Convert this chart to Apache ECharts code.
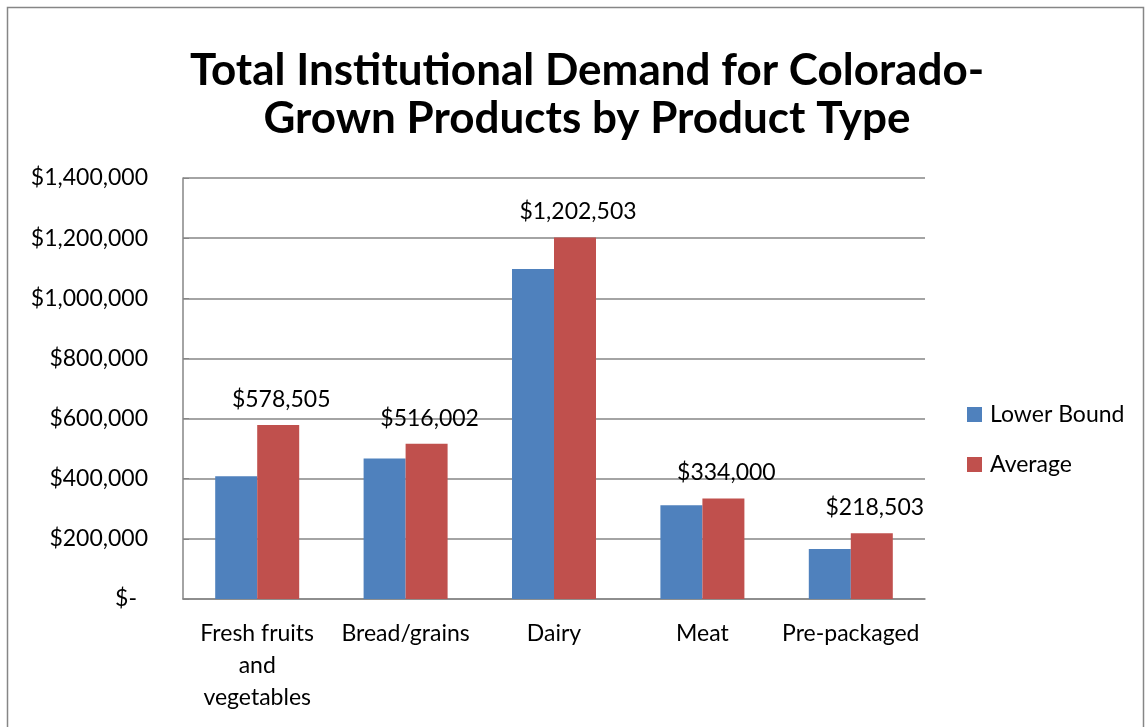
<!DOCTYPE html>
<html>
<head>
<meta charset="utf-8">
<script src="https://cdn.jsdelivr.net/npm/echarts@6/dist/echarts.min.js"></script>
<style>
  html, body { margin: 0; padding: 0; background: #fff; }
  #chart { width: 1145px; height: 727px; }
</style>
</head>
<body>
<div id="chart"></div>
<script>
// Institutional demand by product type (USD)
const categories = ['Fresh fruits\nand\nvegetables', 'Bread/grains', 'Dairy', 'Meat', 'Pre-packaged'];
const lowerBound = [408000, 467000, 1097000, 312000, 166000];
const average = [578505, 516002, 1202503, 334000, 218503];
const seriesNames = ['Lower Bound', 'Average'];

const FONT = 'Lato, "Open Sans", sans-serif';

function money(v) {
  return '$' + Math.round(v).toLocaleString('en-US');
}

const chart = echarts.init(document.getElementById('chart'));
chart.setOption({
  backgroundColor: '#ffffff',
  animation: false,
  title: {
    text: 'Total Institutional Demand for Colorado-\nGrown Products by Product Type',
    left: 582,
    textAlign: 'center',
    top: 42,
    textStyle: {
      fontFamily: FONT,
      fontSize: 44,
      fontWeight: 'bold',
      color: '#000',
      lineHeight: 48
    }
  },
  legend: {
    orient: 'vertical',
    left: 962,
    top: 398,
    itemWidth: 15,
    itemHeight: 15,
    itemGap: 27,
    icon: 'rect',
    textStyle: { fontFamily: FONT, fontSize: 23, color: '#000', padding: [0, 0, 0, 3] },
    data: seriesNames
  },
  grid: { left: 183, right: 220, top: 178, bottom: 128 },
  xAxis: {
    type: 'category',
    data: categories,
    axisLine: { lineStyle: { color: '#868686', width: 1.5 } },
    axisTick: { show: false },
    axisLabel: {
      fontFamily: FONT, fontSize: 23, color: '#000',
      lineHeight: 32, margin: 19, interval: 0
    }
  },
  yAxis: {
    type: 'value',
    min: 0,
    max: 1400000,
    interval: 200000,
    axisLine: { show: true, lineStyle: { color: '#868686', width: 1.5 } },
    axisTick: { show: true, inside: true, length: 6, lineStyle: { color: '#868686' } },
    splitLine: { lineStyle: { color: '#868686', width: 1.5 } },
    axisLabel: {
      fontFamily: FONT, fontSize: 23, color: '#000', margin: 35,
      formatter: function (v) { return v === 0 ? '{z|$-}' : money(v); },
      rich: { z: { fontFamily: FONT, fontSize: 23, color: '#000', padding: [0, 11, 0, 0] } }
    }
  },
  series: [
    {
      name: seriesNames[0],
      type: 'bar',
      data: lowerBound,
      barWidth: 42,
      barGap: '0%',
      itemStyle: { color: '#4F81BD' }
    },
    {
      name: seriesNames[1],
      type: 'bar',
      data: average,
      barWidth: 42,
      itemStyle: { color: '#C0504D' },
      label: {
        show: true,
        position: 'top',
        distance: 14,
        offset: [3, 0],
        fontFamily: FONT,
        fontSize: 23,
        color: '#000',
        formatter: function (p) { return money(p.value); }
      }
    }
  ],
  graphic: [
    {
      type: 'rect',
      shape: { x: 7.5, y: 7.5, width: 1136, height: 740 },
      style: { fill: 'none', stroke: '#868686', lineWidth: 1.5 },
      silent: true,
      z: -1
    }
  ]
});
</script>
</body>
</html>
